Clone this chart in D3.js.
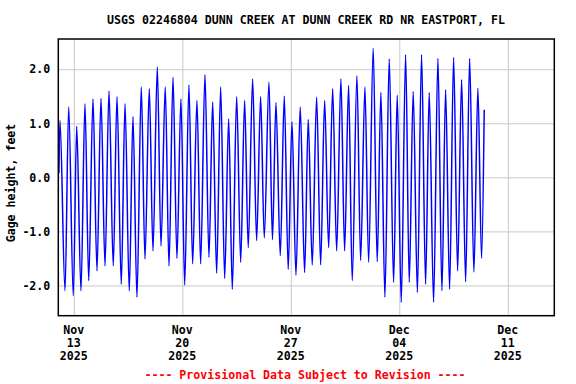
<!DOCTYPE html>
<html>
<head>
<meta charset="utf-8">
<script src="https://cdn.jsdelivr.net/npm/d3@7"></script>
<style>
  body { margin: 0; background: #fff; }
  text { font-family: "DejaVu Sans Mono", monospace; font-weight: bold; }
</style>
</head>
<body>
<svg width="576" height="384"></svg>
<script>
// gage height readings: hours after 2025-11-12 00:00, value in feet (tidal highs/lows)
const startTime = Date.UTC(2025, 10, 12, 0, 0);
const hours = [1, 2.6, 10.4, 16.1, 23.2, 28.5, 35.1, 41.3, 47.1, 53.7, 59.9, 66.1, 72.3, 78.5, 85.1, 90.9,
  97.5, 103.3, 109.9, 115.6, 121.8, 128.5, 134.2, 140.9, 146.6, 153.3, 159, 165.6, 171.4, 177.6, 183.7,
  189.9, 195.7, 202.3, 208, 214.7, 220.4, 227.1, 233.3, 239, 245.2, 251.4, 257.6, 263.8, 269.4, 276.2,
  282.4, 288.5, 294.1, 300.9, 307.1, 313.3, 318.9, 326.2, 331.6, 337, 343.7, 349.9, 356, 361.8, 368,
  374.6, 381.4, 387, 393.2, 400, 406.2, 412.4, 418.6, 424.8, 431, 437.6, 443.3, 449.5, 455.1, 462.4,
  468.1, 474.8, 480.5, 487.6, 493.8, 499.5, 505.7, 512.4, 519.2, 524.8, 531, 537.8, 543.4, 549.5, 556,
  562.5, 568.7, 574.3, 581.1, 587.8, 594, 599.7, 605.9, 612.1, 618.3, 624.5, 630.7, 636.9, 643.5,
  649.7, 655.4, 659.5];
const gage = [0.08, 1.05, -2.1, 1.3, -2.19, 0.94, -2.1, 1.36, -1.91, 1.45, -1.73, 1.46, -1.64, 1.6, -1.64, 1.49,
  -1.98, 1.36, -2.1, 1.12, -2.22, 1.67, -1.51, 1.64, -1.36, 2.04, -1.27, 1.67, -1.64, 1.85, -1.5,
  1.45, -1.99, 1.71, -1.6, 1.42, -1.6, 1.9, -1.48, 1.39, -1.77, 1.67, -1.87, 1.08, -2.07, 1.49,
  -1.57, 1.42, -1.3, 1.82, -1.17, 1.49, -1.12, 1.76, -1.15, 1.38, -1.45, 1.5, -1.7, 1.03, -1.81,
  1.3, -1.76, 1.07, -1.62, 1.48, -1.62, 1.42, -1.3, 1.64, -1.36, 1.82, -1.36, 1.7, -1.91, 1.88,
  -1.54, 1.67, -1.57, 2.39, -1.56, 1.57, -2.22, 2.19, -1.94, 1.52, -2.31, 2.27, -1.94, 1.59, -2.13,
  2.27, -1.98, 1.57, -2.31, 2.2, -2.1, 1.62, -2.07, 2.22, -1.73, 1.81, -1.93, 2.2, -1.75,
  1.65, -1.5, 1.25];
const xTickDates = ["2025-11-13", "2025-11-20", "2025-11-27", "2025-12-04", "2025-12-11"];
const yTicks = [-2, -1, 0, 1, 2];

const svg = d3.select("svg");
const plotLeft = 58.3, plotRight = 554.3, plotTop = 39, plotBottom = 315.7;
const fontSize = 11.6;

const x = d3.scaleUtc()
  .domain([new Date(startTime), new Date(Date.UTC(2025, 11, 14))])
  .range([plotLeft, plotRight]);
const y = d3.scaleLinear().domain([-2.56, 2.56]).range([plotBottom, plotTop]);

const data = hours.map(function(h, i) {
  return {t: new Date(startTime + h * 3600e3), v: gage[i]};
});
const xTicks = xTickDates.map(function(s) { return new Date(s + "T00:00:00Z"); });

// grid
svg.append("g")
  .attr("transform", "translate(0," + plotBottom + ")")
  .call(d3.axisBottom(x).tickValues(xTicks).tickSize(-(plotBottom - plotTop)).tickFormat(""))
  .call(g => g.select(".domain").remove())
  .call(g => g.selectAll("line").attr("stroke", "#c8c8c8"));
svg.append("g")
  .attr("transform", "translate(" + plotLeft + ",0)")
  .call(d3.axisLeft(y).tickValues(yTicks).tickSize(-(plotRight - plotLeft)).tickFormat(""))
  .call(g => g.select(".domain").remove())
  .call(g => g.selectAll("line").attr("stroke", "#c8c8c8"));

// data line
svg.append("path")
  .datum(data)
  .attr("fill", "none")
  .attr("stroke", "#0000ff")
  .attr("stroke-width", 1.5)
  .attr("d", d3.line().x(d => x(d.t)).y(d => y(d.v)).curve(d3.curveMonotoneX));

// frame
svg.append("rect")
  .attr("x", plotLeft).attr("y", plotTop)
  .attr("width", plotRight - plotLeft).attr("height", plotBottom - plotTop)
  .attr("fill", "none").attr("stroke", "#000").attr("stroke-width", 1.5);

// y axis labels
svg.append("g")
  .attr("transform", "translate(" + plotLeft + ",0)")
  .call(d3.axisLeft(y).tickValues(yTicks).tickSize(0).tickPadding(8)
    .tickFormat(d => d.toFixed(1)))
  .call(g => g.select(".domain").remove())
  .call(g => g.selectAll("text").attr("font-size", fontSize).attr("fill", "#000")
    .style("font-family", "DejaVu Sans Mono, monospace").style("font-weight", "bold"));

// x axis labels (three lines)
const fmts = [d3.utcFormat("%b"), d3.utcFormat("%d"), d3.utcFormat("%Y")];
svg.append("g")
  .selectAll("text")
  .data(xTicks)
  .join("text")
  .attr("x", d => x(d))
  .attr("y", 334)
  .attr("text-anchor", "middle")
  .attr("font-size", fontSize)
  .selectAll("tspan")
  .data(d => fmts.map(f => ({d: d, s: f(d)})))
  .join("tspan")
  .attr("x", d => x(d.d))
  .attr("dy", (d, i) => i === 0 ? 0 : 12.8)
  .text(d => d.s);

// y title
svg.append("text")
  .attr("transform", "translate(15,183) rotate(-90)")
  .attr("text-anchor", "middle")
  .attr("font-size", fontSize)
  .text("Gage height, feet");

// chart title
svg.append("text")
  .attr("x", 306).attr("y", 24)
  .attr("text-anchor", "middle")
  .attr("font-size", fontSize)
  .text("USGS 02246804 DUNN CREEK AT DUNN CREEK RD NR EASTPORT, FL");

// footer
svg.append("text")
  .attr("x", 305).attr("y", 379)
  .attr("text-anchor", "middle")
  .attr("font-size", fontSize)
  .attr("fill", "#ff0000")
  .text("---- Provisional Data Subject to Revision ----");
</script>
</body>
</html>
